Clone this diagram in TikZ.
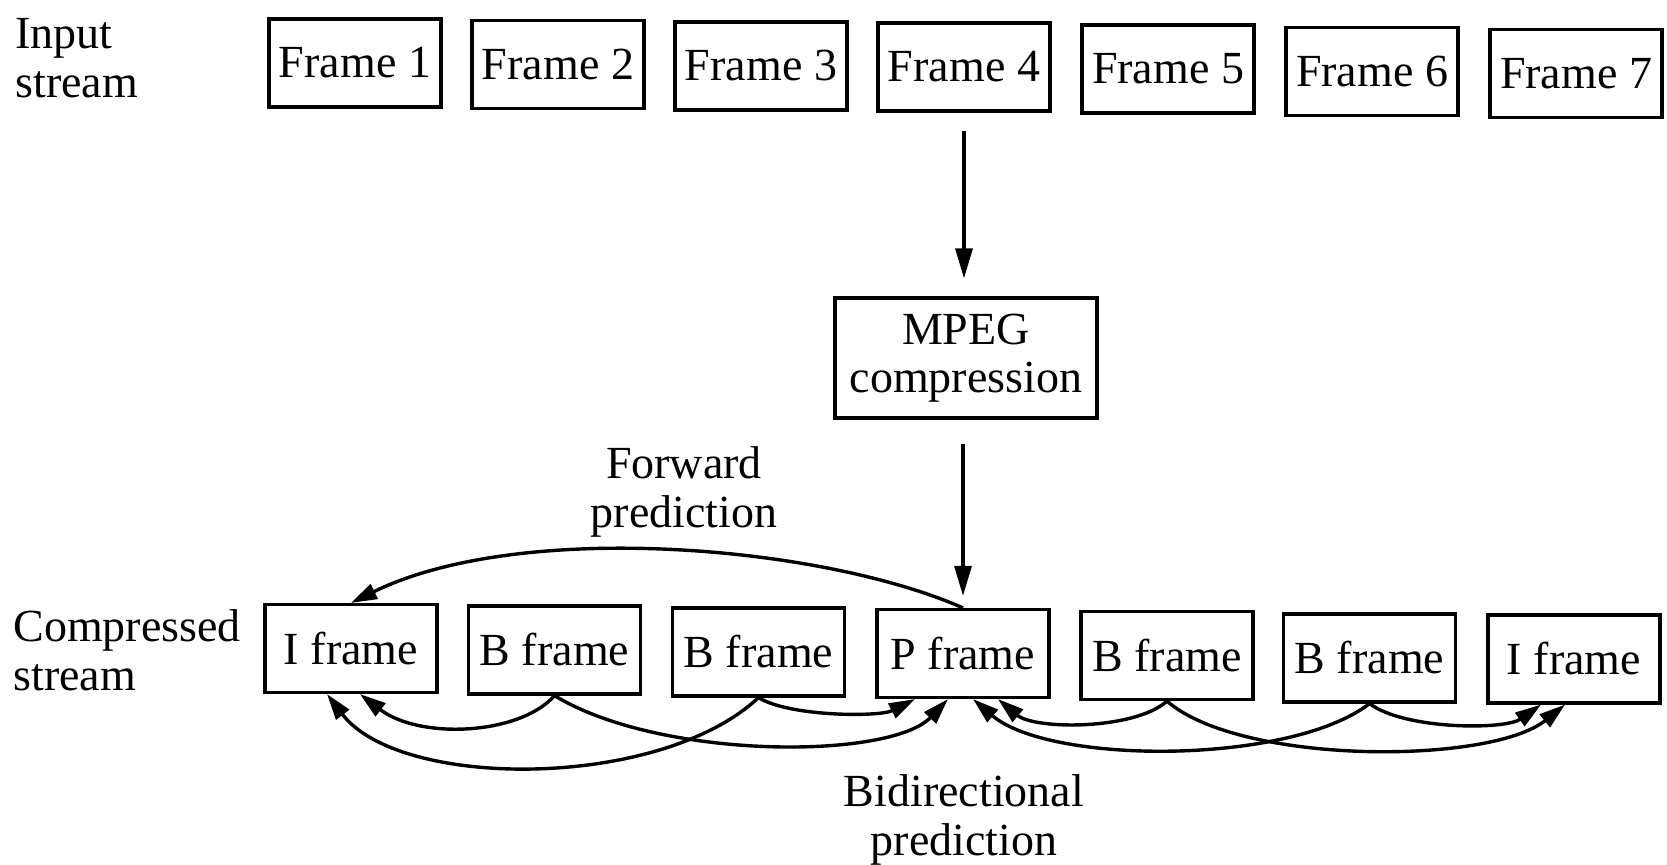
\documentclass[tikz,border=0pt]{standalone}
\usepackage{fontspec}
\setmainfont{Liberation Serif}
\usetikzlibrary{arrows.meta,calc}
\begin{document}
\begin{tikzpicture}[x=0.5pt,y=-0.5pt,
  cell/.style={draw, line width=1.6pt, minimum width=86pt, minimum height=44pt,
    inner sep=1pt, font=\fontsize{23}{25}\selectfont},
  txt/.style={inner sep=0pt, font=\fontsize{23}{24.5}\selectfont},
  arr/.style={line width=1.6pt, -{Triangle[length=15pt,width=8.5pt]}},
  carr/.style={line width=1.7pt, -{Triangle[length=13pt,width=8pt]}}]
\fill[white] (0,0) rectangle (1667,865);
\useasboundingbox (0,0) rectangle (1667,865);

% input frames
\node[txt, anchor=west, align=left] (inlab) at (15,58) {Input\\stream};
\node[cell] (in1) at (355,63) {Frame 1};
\node[cell] (in2) at (558,64.5) {Frame 2};
\node[cell] (in3) at (761,66) {Frame 3};
\node[cell] (in4) at (964,67) {Frame 4};
\node[cell] (in5) at (1168,69) {Frame 5};
\node[cell] (in6) at (1372,71.5) {Frame 6};
\node[cell] (in7) at (1576,73.5) {Frame 7};

% encoder
\node[cell, minimum width=131pt, minimum height=60pt, align=center,
  font=\fontsize{23}{24}\selectfont] (mpeg) at (966,358) {MPEG\\compression};

% compressed frames
\node[txt, anchor=west, align=left] (clab) at (13,650) {Compressed\\stream};
\node[cell] (c1) at (351,648.5) {I frame};
\node[cell] (c2) at (554.5,650) {B frame};
\node[cell] (c3) at (758.5,652) {B frame};
\node[cell] (c4) at (963,653.5) {P frame};
\node[cell] (c5) at (1167,655.5) {B frame};
\node[cell] (c6) at (1369.5,658) {B frame};
\node[cell] (c7) at (1574,659) {I frame};

% labels
\node[txt, align=center] (fwd) at (684,492) {Forward\\prediction};
\node[txt, align=center] (bid) at (964,820) {Bidirectional\\prediction};

% encoding flow
\draw[arr, shorten <=9pt, shorten >=9pt] (in4.south) -- (in4.south |- mpeg.north);
\draw[arr, shorten <=12pt, shorten >=6pt] (mpeg.south -| c4.north) -- (c4.north);

% forward prediction
\draw[carr] (c4.north) .. controls (820,545) and (520,520) .. (c1.north);

% bidirectional prediction, left half
\draw[carr] (c2.south) .. controls (520,735) and (420,740) .. ($(c1.south)+(9,0)$);
\draw[carr] (c2.south) .. controls (660,760) and (890,760) .. ($(c4.south)+(-15,0)$);
\draw[carr] (c3.south) .. controls (660,790) and (400,790) .. ($(c1.south)+(-24,0)$);
\draw[carr] (c3.south) .. controls (790,717) and (880,717) .. ($(c4.south)+(-48,0)$);

% bidirectional prediction, right half
\draw[carr] (c5.south) .. controls (1135,730) and (1035,730) .. ($(c4.south)+(35,0)$);
\draw[carr] (c5.south) .. controls (1240,765) and (1490,765) .. ($(c7.south)+(-9,0)$);
\draw[carr] (c6.south) .. controls (1290,765) and (1050,765) .. ($(c4.south)+(10,0)$);
\draw[carr] (c6.south) .. controls (1405,730) and (1505,730) .. ($(c7.south)+(-33,0)$);
\end{tikzpicture}
\end{document}
